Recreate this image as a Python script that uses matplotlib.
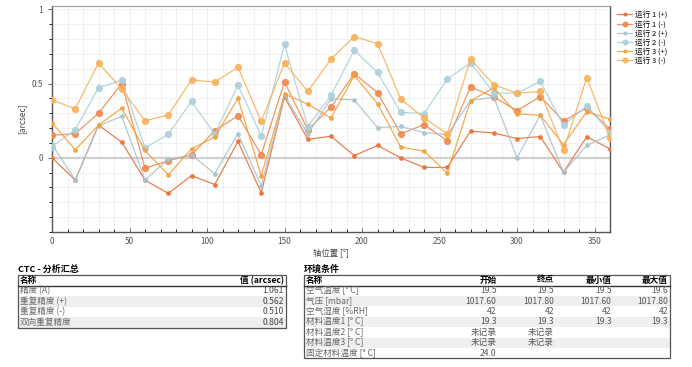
import numpy as np
import matplotlib
matplotlib.use("Agg")
import matplotlib.pyplot as plt
from matplotlib.patches import Rectangle
from matplotlib.ticker import MultipleLocator

plt.rcParams['font.family'] = ['Noto Sans CJK SC', 'DejaVu Sans']

# axis positions [deg]
angles = list(range(0, 361, 15))

run1_pos = [0.0, -0.15, 0.22, 0.105, -0.15, -0.24, -0.12, -0.18, 0.11, -0.235, 0.41, 0.125, 0.145,
            0.015, 0.083, 0.0, -0.065, -0.065, 0.18, 0.167, 0.13, 0.143, -0.097, 0.142, 0.06]
run1_neg = [0.152, 0.163, 0.30, 0.50, -0.07, -0.02, 0.02, 0.183, 0.284, 0.02, 0.512, 0.188, 0.342,
            0.566, 0.44, 0.161, 0.224, 0.115, 0.478, 0.41, 0.318, 0.412, 0.248, 0.338, 0.194]
run2_pos = [0.09, -0.15, 0.215, 0.28, -0.15, -0.01, 0.02, -0.107, 0.163, -0.19, 0.42, 0.162, 0.398,
            0.39, 0.204, 0.211, 0.17, 0.155, 0.385, 0.41, 0.0, 0.286, -0.098, 0.084, 0.155]
run2_neg = [0.075, 0.19, 0.472, 0.523, 0.067, 0.158, 0.38, 0.16, 0.49, 0.148, 0.765, 0.21, 0.42,
            0.725, 0.575, 0.307, 0.298, 0.53, 0.64, 0.438, 0.434, 0.515, 0.218, 0.35, 0.17]
run3_pos = [0.235, 0.054, 0.22, 0.335, 0.05, -0.115, 0.06, 0.14, 0.40, -0.122, 0.43, 0.362, 0.268,
            0.555, 0.365, 0.072, 0.045, -0.104, 0.384, 0.472, 0.297, 0.286, 0.088, 0.31, 0.26]
run3_neg = [0.39, 0.33, 0.64, 0.463, 0.25, 0.288, 0.525, 0.51, 0.61, 0.245, 0.64, 0.447, 0.665,
            0.817, 0.77, 0.396, 0.268, 0.162, 0.665, 0.492, 0.435, 0.447, 0.05, 0.54, 0.134]

series_names = ["运行 1 (+)", "运行 1 (-)", "运行 2 (+)", "运行 2 (-)", "运行 3 (+)", "运行 3 (-)"]
series_vals = [run1_pos, run1_neg, run2_pos, run2_neg, run3_pos, run3_neg]
series_cols = ['#e8733a', '#f08a50', '#a9c4cf', '#aed0dc', '#f2a23a', '#f7b35c']

summary_title = "CTC - 分析汇总"
summary_header = ["名称", "值 (arcsec)"]
summary_names = ["精度 (A)", "重复精度 (+)", "重复精度 (-)", "双向重复精度"]
summary_values = ["1.061", "0.562", "0.510", "0.804"]

env_title = "环境条件"
env_header = ["名称", "开始", "终点", "最小值", "最大值"]
env_names = ["空气温度 [° C]", "气压 [mbar]", "空气湿度 [%RH]", "材料温度1 [° C]",
             "材料温度2 [° C]", "材料温度3 [° C]", "固定材料温度 [° C]"]
env_start = ["19.5", "1017.60", "42", "19.3", "未记录", "未记录", "24.0"]
env_end = ["19.5", "1017.80", "42", "19.3", "未记录", "未记录", ""]
env_min = ["19.5", "1017.60", "42", "19.3", "", "", ""]
env_max = ["19.6", "1017.80", "42", "19.3", "", "", ""]


def main():
    W, H = 692, 367
    fig = plt.figure(figsize=(W / 100, H / 100), dpi=100)

    ax = fig.add_axes([52 / W, 1 - 232 / H, (610 - 52) / W, (232 - 5.7) / H])
    ax.set_xlim(0, 360)
    ax.set_ylim(-0.5, 1.025)
    ax.xaxis.set_major_locator(MultipleLocator(50))
    ax.xaxis.set_minor_locator(MultipleLocator(10))
    ax.yaxis.set_major_locator(MultipleLocator(0.5))
    ax.yaxis.set_minor_locator(MultipleLocator(0.1))
    ax.set_yticks([0, 0.5, 1])
    ax.set_yticklabels(["0", "0.5", "1"])
    ax.grid(True, which='both', color='#efefef', lw=0.6)
    ax.set_axisbelow(True)
    ax.axhline(0, color='#d0d0d0', lw=1.6, zorder=1)
    ax.tick_params(axis='both', labelsize=6, colors='#555555', length=3, width=0.6)
    ax.tick_params(axis='x', which='both', direction='in')
    ax.tick_params(axis='y', which='both', direction='out')
    ax.tick_params(which='minor', length=2)
    for s in ['left', 'bottom', 'right']:
        ax.spines[s].set_color('#555555')
        ax.spines[s].set_linewidth(1.0)
    ax.spines['top'].set_color('#9a9a9a')
    ax.spines['top'].set_linewidth(0.8)
    ax.set_xlabel("轴位置 [°]", fontsize=6, color='#444444', labelpad=2)
    ax.set_ylabel("[arcsec]", fontsize=6, color='#444444', labelpad=4)

    handles = []
    for i, (name, vals, col) in enumerate(zip(series_names, series_vals, series_cols)):
        big = i % 2 == 1
        h, = ax.plot(angles, vals, color=col, lw=0.9, marker='o',
                     ms=4.2 if big else 2.4, mfc=col, mec=col, alpha=0.9, zorder=3,
                     label=name)
        handles.append(h)

    fig.legend(handles=handles, loc='upper left', bbox_to_anchor=(614 / W, 1 - 8 / H),
               frameon=False, fontsize=5.5, handlelength=2.0, handletextpad=0.4,
               labelspacing=0.15, borderaxespad=0, markerscale=0.8)

    # tables drawn in pixel coordinates
    ov = fig.add_axes([0, 0, 1, 1])
    ov.set_xlim(0, W)
    ov.set_ylim(H, 0)
    ov.axis('off')

    fs = 6.2
    # summary table
    x0, x1 = 18, 285.5
    top, hdr_h, row_h = 275, 10.5, 10.6
    ov.text(x0, top - 1.5, summary_title, fontsize=6.5, fontweight='bold', va='bottom', ha='left')
    for r in range(len(summary_names)):
        y = top + hdr_h + r * row_h
        if r % 2 == 1:
            ov.add_patch(Rectangle((x0, y), x1 - x0, row_h, color='#efefef', lw=0))
        ov.text(x0 + 2, y + row_h / 2, summary_names[r], fontsize=fs, color='#666666', va='center')
        ov.text(x1 - 1.5, y + row_h / 2, summary_values[r], fontsize=fs, color='#444444',
                va='center', ha='right')
    ov.text(x0 + 2, top + hdr_h / 2, summary_header[0], fontsize=fs, fontweight='bold', va='center')
    ov.text(x1 - 1.5, top + hdr_h / 2, summary_header[1], fontsize=fs, fontweight='bold',
            va='center', ha='right')
    bot = top + hdr_h + len(summary_names) * row_h
    ov.add_patch(Rectangle((x0, top), x1 - x0, bot - top, fill=False, ec='#555555', lw=0.9))
    ov.plot([x0, x1], [top + hdr_h, top + hdr_h], color='#333333', lw=1.0)

    # environment table
    x0, x1 = 304, 669.5
    row_h = 10.4
    col_right = [496.5, 554, 611.5, 668]
    ov.text(x0, top - 1.5, env_title, fontsize=6.5, fontweight='bold', va='bottom', ha='left')
    cols = [env_start, env_end, env_min, env_max]
    for r in range(len(env_names)):
        y = top + hdr_h + r * row_h
        if r % 2 == 1:
            ov.add_patch(Rectangle((x0, y), x1 - x0, row_h, color='#efefef', lw=0))
        ov.text(x0 + 2, y + row_h / 2, env_names[r], fontsize=fs, color='#666666', va='center')
        for c, xr in zip(cols, col_right):
            ov.text(xr, y + row_h / 2, c[r], fontsize=fs, color='#555555', va='center', ha='right')
    ov.text(x0 + 2, top + hdr_h / 2, env_header[0], fontsize=fs, fontweight='bold', va='center')
    for lab, xr in zip(env_header[1:], col_right):
        ov.text(xr, top + hdr_h / 2, lab, fontsize=fs, fontweight='bold', va='center', ha='right')
    bot = top + hdr_h + len(env_names) * row_h
    ov.add_patch(Rectangle((x0, top), x1 - x0, bot - top, fill=False, ec='#555555', lw=0.9))
    ov.plot([x0, x1], [top + hdr_h, top + hdr_h], color='#333333', lw=1.0)

    fig.savefig("out.png", dpi=100)


if __name__ == "__main__":
    main()
